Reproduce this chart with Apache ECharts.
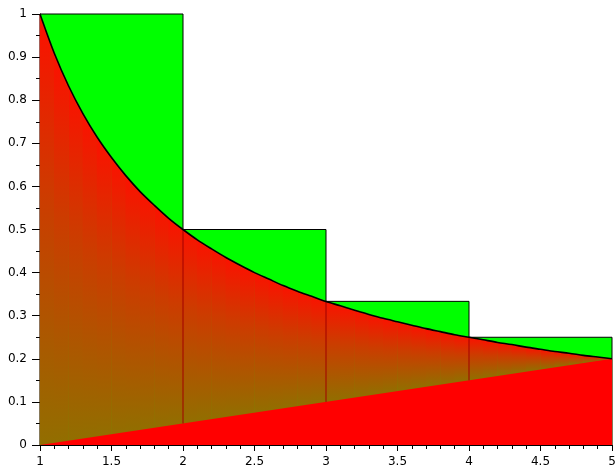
<!DOCTYPE html>
<html><head><meta charset="utf-8">
<script src="https://cdn.jsdelivr.net/npm/echarts@6/dist/echarts.min.js"></script>
<style>html,body{margin:0;padding:0;background:#fff}#c{width:615px;height:470px}</style>
</head><body><div id="c"></div>
<script>
// Step rectangles: [x0, x1, height]
const stepStarts = [1, 2, 3, 4];
const stepEnds = [2, 3, 4, 5];
const stepHeights = [1, 0.5, 0.3333, 0.25];
// Curve (x, y)
const curveX = [1,1.1,1.2,1.3,1.4,1.5,1.6,1.7,1.8,1.9,2,2.1,2.2,2.3,2.4,2.5,2.6,2.7,2.8,2.9,3,3.1,3.2,3.3,3.4,3.5,3.6,3.7,3.8,3.9,4,4.1,4.2,4.3,4.4,4.5,4.6,4.7,4.8,4.9,5];
const curveY = [1,0.909,0.833,0.769,0.714,0.667,0.625,0.588,0.556,0.526,0.5,0.476,0.455,0.435,0.417,0.4,0.385,0.370,0.357,0.345,0.333,0.323,0.3125,0.303,0.294,0.286,0.278,0.270,0.263,0.256,0.25,0.244,0.238,0.233,0.227,0.222,0.217,0.213,0.208,0.204,0.2];
// Lower straight line (endpoints)
const lowerX = [1, 5];
const lowerY = [0, 0.2];
// Vertical dividers: x, bottom (on lower line), top (on curve)
const divX = [2, 3, 4];
const divBottom = [0.05, 0.1, 0.15];
const divTop = [0.5, 0.333, 0.25];

const chart = echarts.init(document.getElementById('c'), null, {renderer:'canvas'});

const rects = stepStarts.map((s,i)=>[s, stepEnds[i], stepHeights[i]]);
const strips = [];
for (let i=0;i<curveX.length-1;i++) strips.push([curveX[i], curveX[i+1], curveY[i], curveY[i+1]]);

function lowerAt(x){ // position on drawn straight line between its two endpoints
  const t=(x-lowerX[0])/(lowerX[1]-lowerX[0]);
  return lowerY[0]+t*(lowerY[1]-lowerY[0]);
}

const font = {fontFamily:'DejaVu Sans', fontSize:12, color:'#000'};

chart.setOption({
  animation:false,
  grid:{left:40,right:3,top:14,bottom:25,containLabel:false,outerBoundsMode:'none'},
  xAxis:{type:'value',min:1,max:5,interval:0.5,
    axisLine:{show:true,lineStyle:{color:'#000',width:1}},
    axisTick:{show:true,inside:false,length:6,lineStyle:{color:'#000'}},
    minorTick:{show:true,splitNumber:5,length:4,lineStyle:{color:'#000'}},
    splitLine:{show:false},
    axisLabel:Object.assign({margin:11},font)},
  yAxis:{type:'value',min:0,max:1,interval:0.1,
    axisLine:{show:true,lineStyle:{color:'#000',width:1}},
    axisTick:{show:true,inside:false,length:8,lineStyle:{color:'#000'}},
    minorTick:{show:true,splitNumber:2,length:4,lineStyle:{color:'#000'}},
    splitLine:{show:false},
    axisLabel:Object.assign({margin:13},font)},
  series:[
    {type:'custom',z:1,data:rects,clip:false,
     renderItem:(p,api)=>{
       const a=api.coord([api.value(0),api.value(2)]);
       const b=api.coord([api.value(1),0]);
       return {type:'rect',shape:{x:a[0],y:a[1],width:b[0]-a[0],height:b[1]-a[1]},
         style:{fill:'#00ff00',stroke:'#000',lineWidth:1}};
     }},
    {type:'custom',z:2,data:strips,
     renderItem:(p,api)=>{
       const x0=api.value(0),x1=api.value(1);
       const p0=api.coord([x0,api.value(2)]);
       const p1=api.coord([x1,api.value(3)]);
       const q1=api.coord([x1,0]);
       const q0=api.coord([x0,0]);
       const xm=(x0+x1)/2;
       const top=api.coord([xm,(api.value(2)+api.value(3))/2])[1];
       const bot=api.coord([xm,lowerAt(xm)])[1];
       return {type:'polygon',shape:{points:[[p0[0]-0.3,p0[1]],[p1[0]+0.3,p1[1]],[q1[0]+0.3,q1[1]],[q0[0]-0.3,q0[1]]]},
         style:{fill:{type:'linear',x:0,y:top,x2:0,y2:bot,global:true,
           colorStops:[{offset:0,color:'#f81400'},{offset:0.4,color:'#cc3c00'},{offset:1,color:'#926e00'}]}}};
     }},
    {type:'line',z:3,data:lowerX.map((x,i)=>[x,lowerY[i]]),symbol:'none',
     lineStyle:{width:0},areaStyle:{color:'#ff0000',opacity:1}},
    {type:'custom',z:4,data:divX.map((x,i)=>[x,divBottom[i],divTop[i]]),
     renderItem:(p,api)=>{
       const a=api.coord([api.value(0),api.value(1)]);
       const b=api.coord([api.value(0),api.value(2)]);
       return {type:'line',shape:{x1:a[0],y1:a[1],x2:b[0],y2:b[1]},style:{stroke:'#a00000',lineWidth:1}};
     }},
    {type:'line',z:5,data:curveX.map((x,i)=>[x,curveY[i]]),symbol:'none',smooth:0.3,
     lineStyle:{color:'#000',width:1.6}}
  ]
});
</script></body></html>
